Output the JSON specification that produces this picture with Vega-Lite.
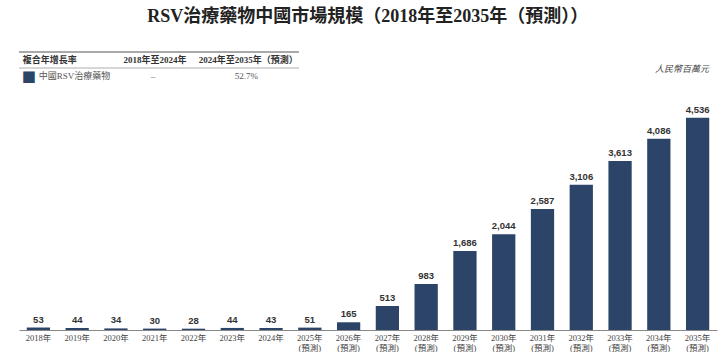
{
  "$schema": "https://vega.github.io/schema/vega-lite/v6.json",
  "padding": {"left": 18, "top": 8, "right": 6, "bottom": 0},
  "title": {"text": "RSV治療藥物中國市場規模（2018年至2035年（預測））", "font": "Liberation Serif, Noto Sans CJK TC", "fontSize": 18, "fontWeight": "bold", "color": "#222", "anchor": "middle", "offset": 25},
  "bounds": "flush",
  "spacing": 12,
  "config": {"view": {"stroke": null}},
  "vconcat": [
    {
      "width": 280,
      "height": 32,
      "data": {"values": [
        {"row": "h", "col": "c1", "text": "複合年增長率"},
        {"row": "h", "col": "c2", "text": "2018年至2024年"},
        {"row": "h", "col": "c3", "text": "2024年至2035年（預測）"},
        {"row": "r1", "col": "c1", "text": "中國RSV治療藥物"},
        {"row": "r1", "col": "c2", "text": "–"},
        {"row": "r1", "col": "c3", "text": "52.7%"}
      ]},
      "encoding": {
        "x": {"field": "col", "type": "nominal", "scale": {"domain": ["c1", "c2", "c3"], "paddingInner": 0, "paddingOuter": 0}, "axis": null},
        "y": {"field": "row", "type": "nominal", "scale": {"domain": ["h", "r1"], "paddingInner": 0, "paddingOuter": 0}, "axis": null}
      },
      "layer": [
        {
          "transform": [{"filter": "datum.row == 'h' && datum.col == 'c1'"}],
          "mark": {"type": "rule", "color": "#555", "strokeWidth": 1.2},
          "encoding": {"x": null, "y": {"field": "row", "type": "nominal", "bandPosition": 0}}
        },
        {
          "transform": [{"filter": "datum.row == 'r1' && datum.col == 'c1'"}],
          "mark": {"type": "rule", "color": "#999", "strokeWidth": 0.8},
          "encoding": {"x": null, "y": {"field": "row", "type": "nominal", "bandPosition": 0}}
        },
        {
          "transform": [{"filter": "datum.row == 'h' && datum.col == 'c1'"}],
          "mark": {"type": "text", "align": "left", "dx": -43, "font": "Liberation Serif, Noto Sans CJK TC", "fontSize": 9, "fontWeight": "bold", "color": "#333"},
          "encoding": {"text": {"field": "text"}}
        },
        {
          "transform": [{"filter": "datum.row == 'h' && datum.col != 'c1'"}],
          "mark": {"type": "text", "align": "center", "dx": -4, "font": "Liberation Serif, Noto Sans CJK TC", "fontSize": 9, "fontWeight": "bold", "color": "#333"},
          "encoding": {"text": {"field": "text"}}
        },
        {
          "transform": [{"filter": "datum.row == 'r1' && datum.col == 'c1'"}],
          "mark": {"type": "text", "align": "left", "dx": -44, "text": "■", "font": "DejaVu Sans", "fontSize": 15, "color": "#2b4468"}
        },
        {
          "transform": [{"filter": "datum.row == 'r1' && datum.col == 'c1'"}],
          "mark": {"type": "text", "align": "left", "dx": -27, "font": "Liberation Serif, Noto Sans CJK TC", "fontSize": 9, "color": "#555"},
          "encoding": {"text": {"field": "text"}}
        },
        {
          "transform": [{"filter": "datum.row == 'r1' && datum.col != 'c1'"}],
          "mark": {"type": "text", "align": "center", "dx": -6, "font": "Liberation Serif, Noto Sans CJK TC", "fontSize": 9, "color": "#555"},
          "encoding": {"text": {"field": "text"}}
        }
      ]
    },
    {
      "width": 698,
      "height": 234,
      "title": {"text": "人民幣百萬元", "anchor": "end", "font": "Liberation Serif, Noto Sans CJK TC", "fontStyle": "italic", "fontSize": 9, "fontWeight": "normal", "color": "#444", "offset": 22, "dx": -8},
      "data": {"values": [
        {"year": "2018年", "value": 53},
        {"year": "2019年", "value": 44},
        {"year": "2020年", "value": 34},
        {"year": "2021年", "value": 30},
        {"year": "2022年", "value": 28},
        {"year": "2023年", "value": 44},
        {"year": "2024年", "value": 43},
        {"year": "2025年(預測)", "value": 51},
        {"year": "2026年(預測)", "value": 165},
        {"year": "2027年(預測)", "value": 513},
        {"year": "2028年(預測)", "value": 983},
        {"year": "2029年(預測)", "value": 1686},
        {"year": "2030年(預測)", "value": 2044},
        {"year": "2031年(預測)", "value": 2587},
        {"year": "2032年(預測)", "value": 3106},
        {"year": "2033年(預測)", "value": 3613},
        {"year": "2034年(預測)", "value": 4086},
        {"year": "2035年(預測)", "value": 4536}
      ]},
      "encoding": {
        "x": {"field": "year", "type": "nominal", "sort": null, "scale": {"paddingInner": 0.4, "paddingOuter": 0.2},
          "axis": {"title": null, "labelAngle": 0, "ticks": false, "domainColor": "#888", "domainWidth": 1, "labelFont": "Liberation Serif, Noto Sans CJK TC", "labelFontSize": 8.5, "labelColor": "#444", "labelPadding": 3, "labelLineHeight": 10, "labelExpr": "split(replace(datum.label, '(', '|('), '|')"}},
        "y": {"field": "value", "type": "quantitative", "scale": {"domain": [0, 5000], "nice": false}, "axis": null}
      },
      "layer": [
        {"mark": {"type": "bar", "color": "#2b4468"}},
        {"mark": {"type": "text", "baseline": "bottom", "dy": -3, "font": "Liberation Sans", "fontWeight": "bold", "fontSize": 9.5, "color": "#333"},
         "encoding": {"text": {"field": "value", "type": "quantitative", "format": ","}}}
      ]
    }
  ]
}
